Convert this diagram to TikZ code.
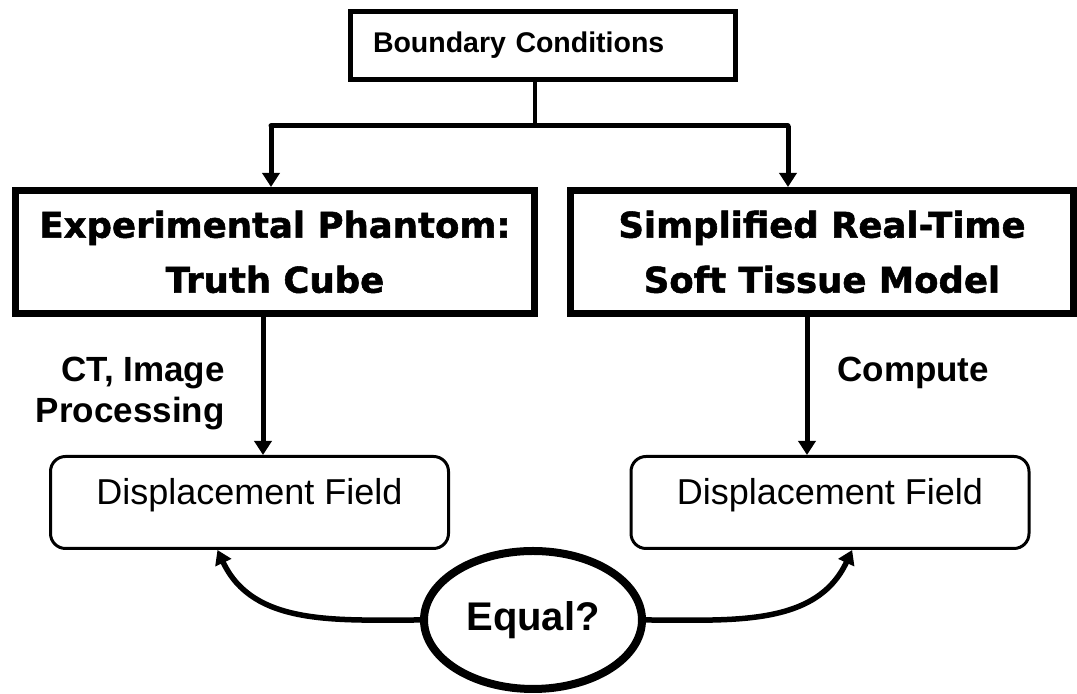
\documentclass[tikz,border=0pt]{standalone}
\usepackage{fontspec}
\setmainfont{Liberation Sans}
\newfontfamily\headfont{DejaVu Sans}[BoldFeatures={FakeBold=1.5}]
\usetikzlibrary{arrows.meta,shapes.geometric}
\tikzset{
  topbox/.style={draw,line width=2.5pt,minimum height=34pt,text width=170pt,
    inner xsep=11.25pt,align=left,font=\fontsize{14.25}{17}\selectfont\bfseries},
  bigbox/.style={draw,line width=3.5pt,minimum height=61.5pt,align=center,
    inner sep=0pt,font=\headfont\fontsize{17.75}{27.5}\selectfont\bfseries},
  fieldbox/.style={draw,line width=1.5pt,rounded corners=7.5pt,minimum width=199pt,
    minimum height=46pt,text height=12.5pt,text depth=10pt,
    font=\fontsize{18}{21}\selectfont},
  lbl/.style={inner sep=0pt,font=\fontsize{17.5}{20.5}\selectfont\bfseries},
  arr/.style={line width=2.5pt,-{Triangle[width=8.5pt,length=7pt]}},
}
\begin{document}
\begin{tikzpicture}[x=0.5pt,y=0.5pt]
  \useasboundingbox (0,0) rectangle (1077,694);
  \node[topbox] (bc) at (543,648.5) {Boundary Conditions};
  \node[bigbox,minimum width=259.5pt] (pe) at (275,442) {Experimental Phantom:\\Truth Cube};
  \node[bigbox,minimum width=251.5pt] (ps) at (822,442) {Simplified Real-Time\\Soft Tissue Model};
  \node[fieldbox] (df1) at (249.5,191.5) {Displacement Field};
  \node[fieldbox] (df2) at (830,191.5) {Displacement Field};
  \node[draw,ellipse,line width=4pt,minimum width=109pt,minimum height=69pt,inner sep=0pt,
    font=\fontsize{20}{24}\selectfont\bfseries] (eq) at (533,74) {Equal?};
  \node[lbl,align=right,anchor=east] (ct) at (225,300) {CT, Image\\Processing};
  \node[lbl,anchor=west] (cp) at (837,321) {Compute};

  % split into the two branches
  \coordinate (split) at (535,568);
  \coordinate (lt) at (271,568);
  \coordinate (rt) at (788,568);
  \draw[line width=1.75pt] (bc.south -| split) -- (split);
  \draw[line width=2.5pt,line cap=round] (lt) -- (rt);
  \draw[arr] (lt) -- (lt |- pe.north);
  \draw[arr] (rt) -- (rt |- ps.north);
  \draw[arr] ([xshift=-6pt]pe.south) -- ([xshift=-6pt]pe.south |- df1.north);
  \draw[arr] ([xshift=-7.5pt]ps.south) -- ([xshift=-7.5pt]ps.south |- df2.north);
  % compare the two fields
  \draw[arr,line width=2.75pt] (eq.west) to[out=180,in=-65] (df1.236);
  \draw[arr,line width=2.75pt] (eq.east) to[out=0,in=-115] (df2.-65);
\end{tikzpicture}
\end{document}
